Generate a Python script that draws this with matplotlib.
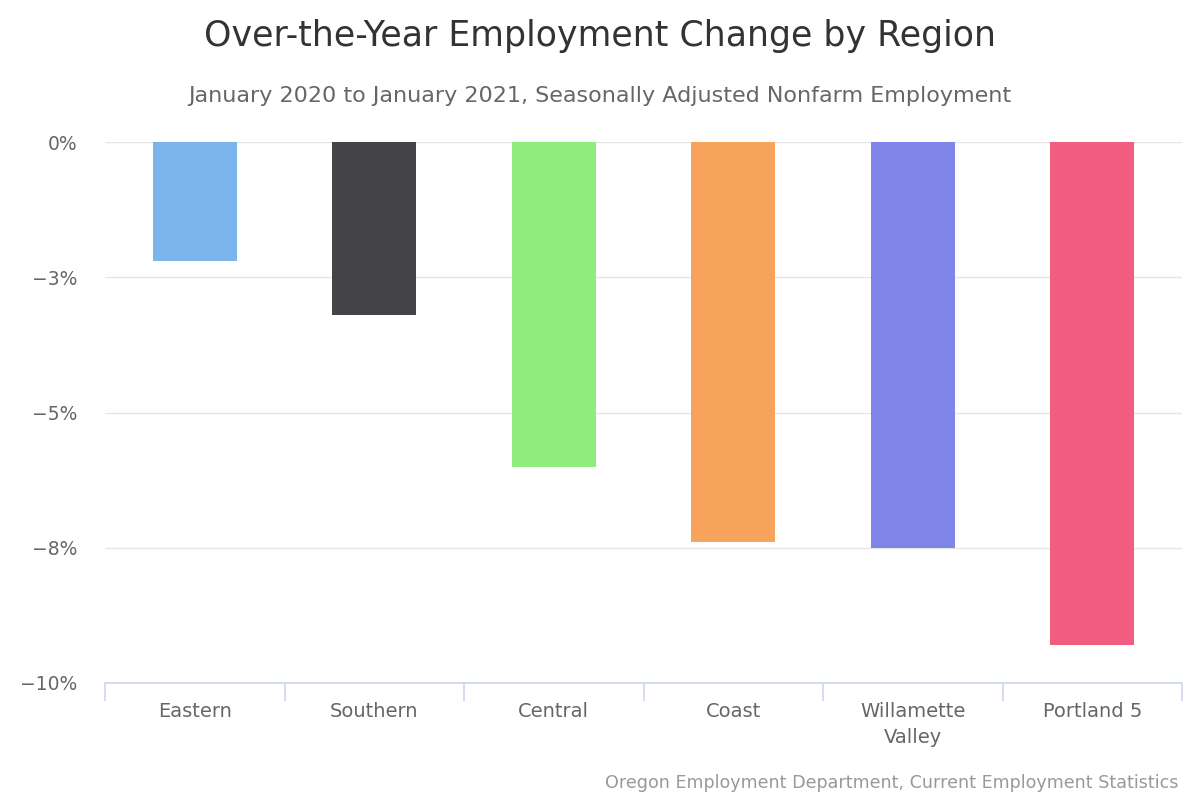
import matplotlib.pyplot as plt
import numpy as np

# Data
regions = ['Eastern', 'Southern', 'Central', 'Coast', 'Willamette\nValley', 'Portland 5']
change_pct = [-2.2, -3.2, -6.0, -7.4, -7.5, -9.3]
colors = ['#7cb5ec', '#434348', '#90ed7d', '#f7a35c', '#8085e9', '#f15c80']
y_ticks = [0, -2.5, -5, -7.5, -10]
y_tick_labels = ['0%', '−3%', '−5%', '−8%', '−10%']

plt.rcParams['font.family'] = ['DejaVu Sans']

fig = plt.figure(figsize=(12, 8), dpi=100)
ax = fig.add_axes([105 / 1200, 1 - 683 / 800, (1182 - 105) / 1200, (683 - 142) / 800])

x = np.arange(len(regions))
ax.bar(x, change_pct, width=0.47, color=colors, zorder=3)

ax.set_xlim(-0.5, len(regions) - 0.5)
ax.set_ylim(-10, 0)
ax.set_yticks(y_ticks)
ax.set_yticklabels(y_tick_labels, fontsize=13.5, color='#666666')
ax.tick_params(axis='y', length=0, pad=20)
ax.grid(axis='y', color='#e6e6e6', linewidth=1, zorder=0)

for s in ['top', 'right', 'left']:
    ax.spines[s].set_visible(False)
ax.spines['bottom'].set_color('#ccd6eb')
ax.spines['bottom'].set_linewidth(1.2)

# category labels, ticks on the boundaries
ax.set_xticks(x)
ax.set_xticklabels(regions, fontsize=14, color='#666666', linespacing=1.45)
ax.tick_params(axis='x', which='major', length=0, pad=14)
ax.set_xticks(np.arange(-0.5, len(regions)), minor=True)
ax.tick_params(axis='x', which='minor', length=13, width=1.2, color='#ccd6eb')

fig.text(0.5, 1 - 36 / 800, 'Over-the-Year Employment Change by Region',
         ha='center', va='center', fontsize=25, color='#333333')
fig.text(0.5, 1 - 96 / 800, 'January 2020 to January 2021, Seasonally Adjusted Nonfarm Employment',
         ha='center', va='center', fontsize=16, color='#666666')
fig.text(1178 / 1200, 1 - 783 / 800, 'Oregon Employment Department, Current Employment Statistics',
         ha='right', va='center', fontsize=12.6, color='#999999')

plt.savefig('out.png', dpi=100)
